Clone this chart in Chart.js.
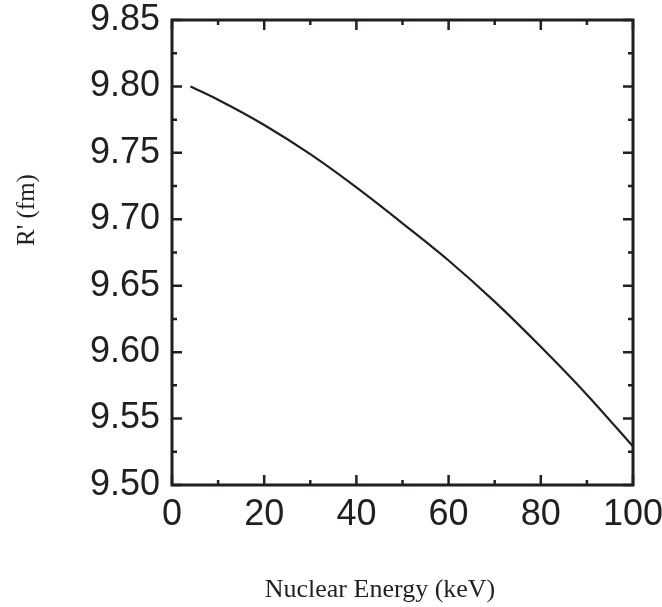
<!DOCTYPE html>
<html>
<head>
<meta charset="utf-8">
<script src="https://cdn.jsdelivr.net/npm/chart.js@4.4.1/dist/chart.umd.min.js"></script>
<style>body{margin:0;background:#fff}</style>
</head>
<body>
<canvas id="myChart" width="662" height="607"></canvas>
<script>
const energy = [4, 10, 20, 30, 40, 50, 60, 70, 80, 90, 100];
const radius = [9.800, 9.790, 9.771, 9.749, 9.724, 9.697, 9.669, 9.638, 9.604, 9.568, 9.529];
const xTicks = [0, 20, 40, 60, 80, 100];
const yTicks = [9.50, 9.55, 9.60, 9.65, 9.70, 9.75, 9.80, 9.85];
const ink = "#231f20";

// halfway values between labelled ticks
const halves = (arr) => arr.slice(1).map((v, i) => (v + arr[i]) / 2);

// box around the plot with inward ticks on every side
const frame = {
  id: "frame",
  afterDraw(chart) {
    const { ctx, chartArea: a, scales: { x, y } } = chart;
    ctx.save();
    ctx.strokeStyle = ink;
    ctx.lineWidth = 2.5;
    ctx.lineCap = "butt";
    const tick = (vals, len, isX) => {
      vals.forEach(v => {
        ctx.beginPath();
        if (isX) {
          const px = x.getPixelForValue(v);
          ctx.moveTo(px, a.bottom); ctx.lineTo(px, a.bottom - len);
          ctx.moveTo(px, a.top); ctx.lineTo(px, a.top + len);
        } else {
          const py = y.getPixelForValue(v);
          ctx.moveTo(a.left, py); ctx.lineTo(a.left + len, py);
          ctx.moveTo(a.right, py); ctx.lineTo(a.right - len, py);
        }
        ctx.stroke();
      });
    };
    tick(xTicks, 10, true);
    tick(halves(xTicks), 5, true);
    tick(yTicks, 10, false);
    tick(halves(yTicks), 5, false);
    ctx.lineWidth = 3;
    ctx.strokeRect(a.left, a.top, a.right - a.left, a.bottom - a.top);
    ctx.restore();
  }
};

// axis titles
const titles = {
  id: "titles",
  afterDraw(chart) {
    const ctx = chart.ctx;
    ctx.save();
    ctx.fillStyle = ink;
    ctx.font = "26px 'Liberation Serif', 'Times New Roman', serif";
    ctx.textAlign = "center";
    ctx.textBaseline = "middle";
    ctx.fillText("Nuclear Energy (keV)", 380, 590);
    ctx.translate(27, 210);
    ctx.rotate(-Math.PI / 2);
    ctx.font = "25px 'Liberation Serif', 'Times New Roman', serif";
    ctx.fillText("R' (fm)", 0, 0);
    ctx.restore();
  }
};

const tickFont = { family: "'Liberation Sans', Arial, sans-serif", size: 36 };

new Chart(document.getElementById("myChart"), {
  type: "line",
  data: {
    datasets: [{
      data: energy.map((e, i) => ({ x: e, y: radius[i] })),
      borderColor: ink,
      borderWidth: 2.2,
      pointRadius: 0,
      fill: false,
      cubicInterpolationMode: "monotone"
    }]
  },
  options: {
    responsive: false,
    animation: false,
    layout: { padding: { top: 20, right: 29, left: 0, bottom: 0 } },
    plugins: { legend: { display: false }, tooltip: { enabled: false } },
    scales: {
      x: {
        type: "linear",
        min: 0,
        max: 100,
        afterBuildTicks: s => { s.ticks = xTicks.map(v => ({ value: v })); },
        afterFit: s => { s.height = 122; s.paddingLeft = 0; s.paddingRight = 0; },
        grid: { display: false, drawTicks: false },
        border: { display: false },
        ticks: { font: tickFont, color: ink, padding: 8, maxRotation: 0 }
      },
      y: {
        min: 9.5,
        max: 9.85,
        afterBuildTicks: s => { s.ticks = yTicks.map(v => ({ value: v })); },
        afterFit: s => { s.width = 172; s.paddingTop = 0; s.paddingBottom = 0; },
        grid: { display: false, drawTicks: false },
        border: { display: false },
        ticks: { font: tickFont, color: ink, padding: 12, callback: v => v.toFixed(2) }
      }
    }
  },
  plugins: [frame, titles]
});
</script>
</body>
</html>
